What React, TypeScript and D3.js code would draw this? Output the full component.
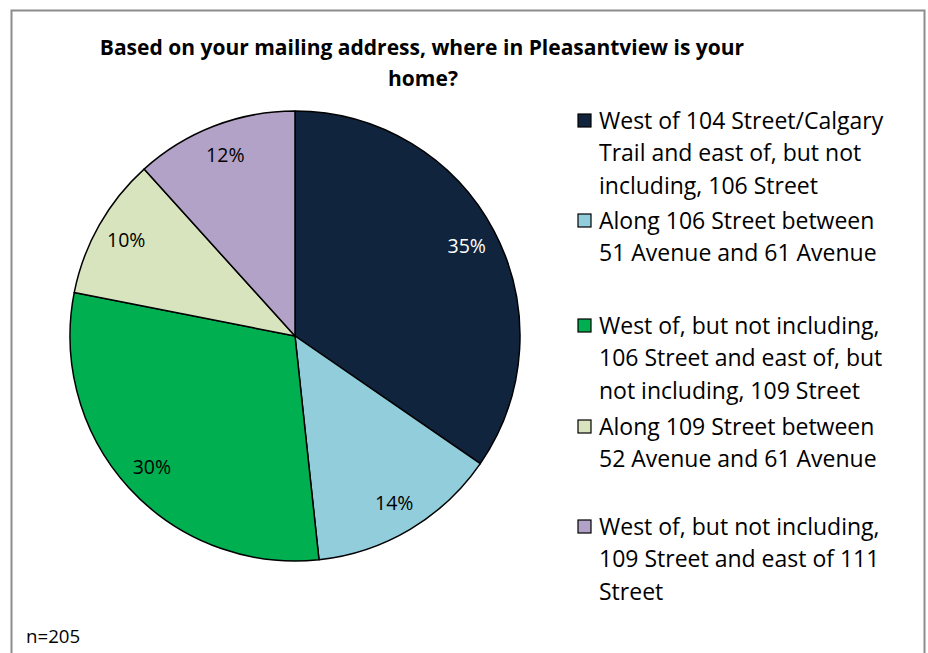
import React from "react";
import * as d3 from "d3";

const title = ["Based on your mailing address, where in Pleasantview is your", "home?"];
const categories = [
  ["West of 104 Street/Calgary", "Trail and east of, but not", "including, 106 Street"],
  ["Along 106 Street between", "51 Avenue and 61 Avenue"],
  ["West of, but not including,", "106 Street and east of, but", "not including, 109 Street"],
  ["Along 109 Street between", "52 Avenue and 61 Avenue"],
  ["West of, but not including,", "109 Street and east of 111", "Street"],
];
const values = [34.6, 13.7, 29.8, 10.2, 11.7];
const colors = ["#10243E", "#92CDDC", "#00B050", "#D7E4BD", "#B3A2C7"];
const labelColors = ["#ffffff", "#000000", "#000000", "#000000", "#000000"];
const note = "n=205";

const W = 928;
const H = 653;
const cx = 295;
const cy = 336;
const R = 225;
const legendTops = [121, 221, 326, 427, 527];
const lineH = 32.5;
const FONT = "'Open Sans', Lato, sans-serif";

export default function App() {
  const pie = d3.pie<number>().sort(null).value((d) => d);
  const arcs = pie(values);
  const arc = d3.arc<d3.PieArcDatum<number>>().innerRadius(0).outerRadius(R);
  const labelArc = d3.arc<d3.PieArcDatum<number>>().innerRadius(194).outerRadius(194);
  const total = d3.sum(values);
  const fmt = (v: number) => Math.round((v / total) * 100) + "%";

  return (
    <svg width={W} height={H} style={{ position: "absolute", left: 0, top: 0 }}>
      <rect x={0} y={0} width={W} height={H} fill="#fff" />
      <rect x={11.5} y={10.5} width={913} height={660} fill="#fff" stroke="#8c8c8c" strokeWidth={2} />
      <g fontFamily={FONT} fontWeight="bold" fontSize={21} textAnchor="middle" fill="#000">
        <text x={422} y={55}>{title[0]}</text>
        <text x={423} y={86}>{title[1]}</text>
      </g>
      <g transform={`translate(${cx},${cy})`}>
        {arcs.map((a, i) => (
          <path key={i} d={arc(a) || ""} fill={colors[i]} stroke="#000" strokeWidth={1.5} strokeLinejoin="round" />
        ))}
        {arcs.map((a, i) => {
          const [x, y] = labelArc.centroid(a);
          return (
            <text key={"l" + i} x={x} y={y} dy="0.36em" textAnchor="middle" fontFamily={FONT} fontSize={19.5} fill={labelColors[i]}>
              {fmt(a.data)}
            </text>
          );
        })}
      </g>
      <g fontFamily={FONT} fontSize={23} fill="#000">
        {categories.map((lines, i) => (
          <g key={i}>
            <rect x={578} y={legendTops[i] - 7} width={13} height={13} fill={colors[i]} stroke="#000" strokeWidth={1.2} />
            {lines.map((ln, j) => (
              <text key={j} x={599} y={legendTops[i] + j * lineH} dy="0.34em">
                {ln}
              </text>
            ))}
          </g>
        ))}
      </g>
      <text x={26} y={643} fontFamily={FONT} fontSize={18.7} fill="#000">{note}</text>
    </svg>
  );
}
